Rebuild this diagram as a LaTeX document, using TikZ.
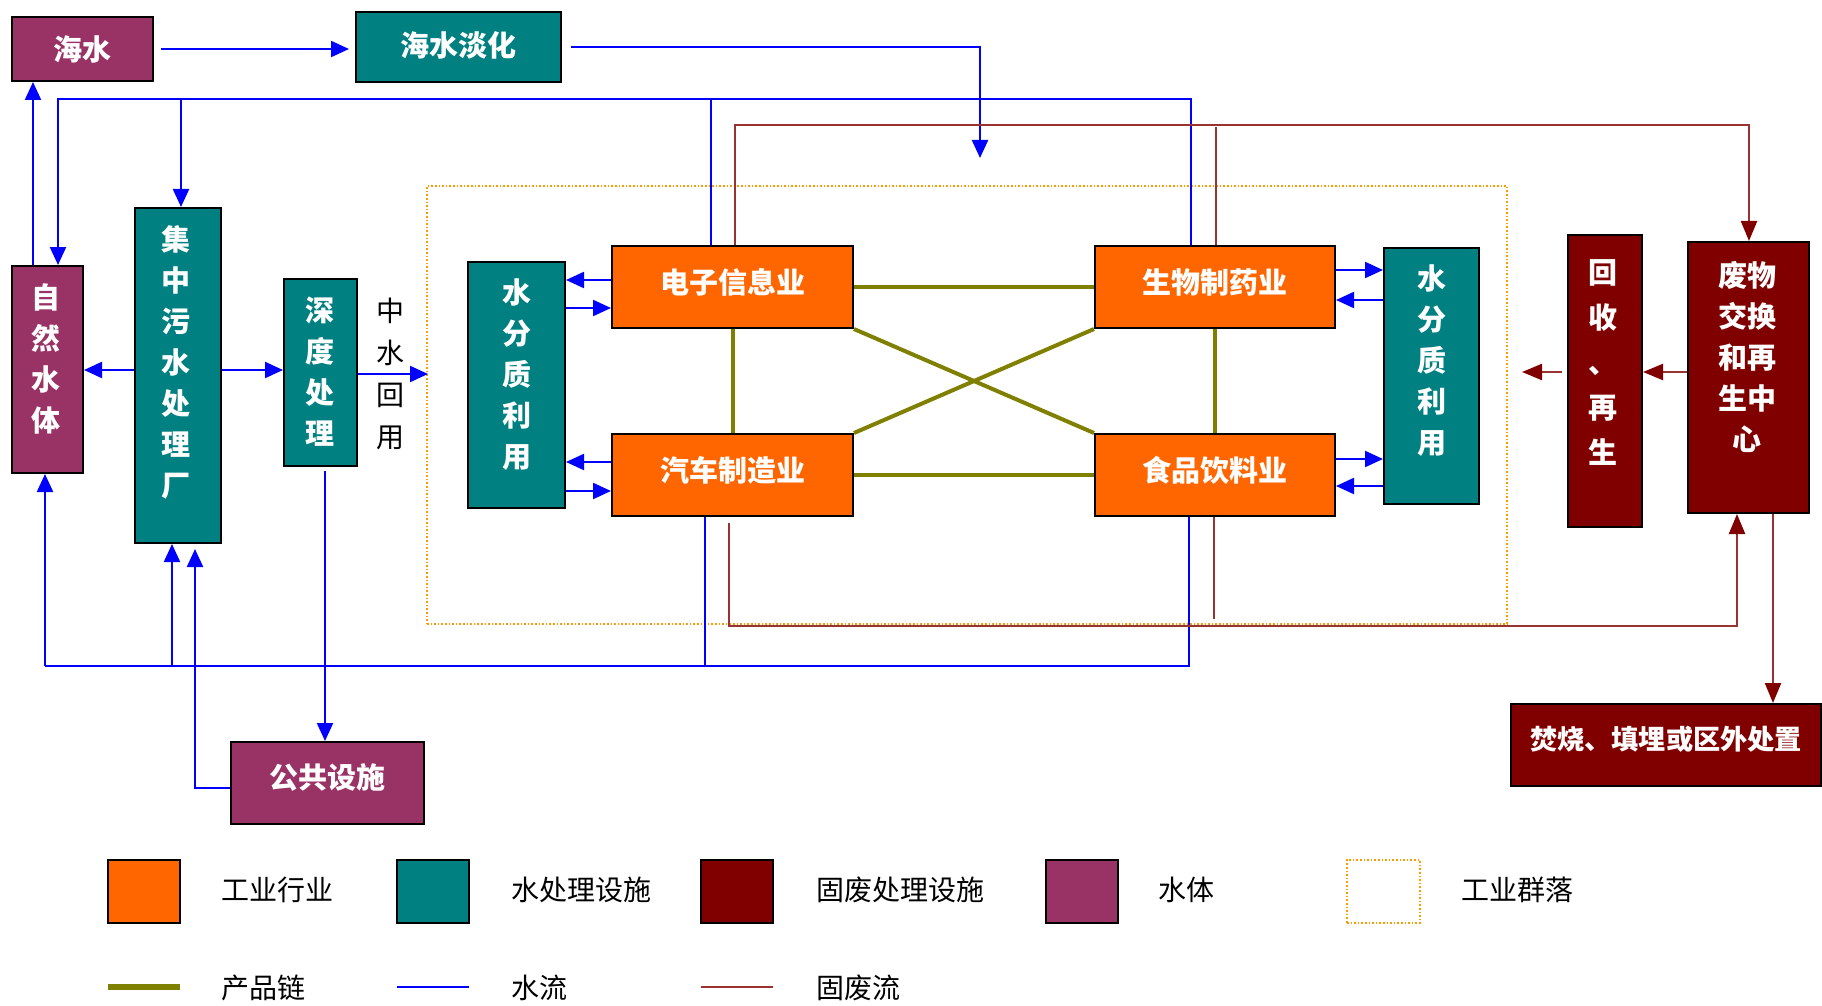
\documentclass[tikz,border=0pt]{standalone}
\usepackage{fontspec}
\setmainfont{Noto Sans CJK SC}
\usetikzlibrary{arrows.meta}
\definecolor{cOrange}{HTML}{FF6600}
\definecolor{cTeal}{HTML}{008080}
\definecolor{cDark}{HTML}{800000}
\definecolor{cPurple}{HTML}{993366}
\definecolor{cOlive}{HTML}{808000}
\definecolor{cBlue}{HTML}{0000FF}
\definecolor{cRed}{HTML}{993333}
\definecolor{cDot}{HTML}{FF9900}
\tikzset{
 box/.style={draw=black, line width=1pt, inner sep=0pt},
 ind/.style={box, fill=cOrange},
 wt/.style={box, fill=cTeal},
 sw/.style={box, fill=cDark},
 wb/.style={box, fill=cPurple},
 cluster/.style={draw=cDot, densely dotted, line width=0.8pt, inner sep=0pt},
 lab/.style={text=white, font=\fontsize{14.5}{20.5}\selectfont\bfseries, align=center, inner sep=0pt},
 blk/.style={text=black, font=\fontsize{14}{21}\selectfont, align=center, inner sep=0pt},
 water/.style={cBlue, line width=1.1pt},
 wa/.style={water, -{Triangle[length=9pt,width=8pt]}},
 prod/.style={cOlive, line width=2pt},
 waste/.style={cRed, line width=1.1pt},
 wsa/.style={waste, -{Triangle[length=10pt,width=8pt,color=cDark]}},
}
\begin{document}
\begin{tikzpicture}[x=0.5pt,y=-0.5pt]
\useasboundingbox (0,0) rectangle (1822,1006);
% cluster
\node[cluster, minimum width=540pt, minimum height=219pt] (cluster) at (967,405) {};
% boxes
\node[wb, minimum width=70.5pt, minimum height=32pt] (haishui) at (82.5,49) {};
\node[lab] at (82.5,49) {海水};
\node[wt, minimum width=102.5pt, minimum height=35pt] (danhua) at (458.5,47) {};
\node[lab] at (458.5,45) {海水淡化};
\node[wb, minimum width=35.5pt, minimum height=103.5pt] (ziran) at (47.5,369.5) {};
\node[lab] at (46,358.5) {自\\然\\水\\体};
\node[wt, minimum width=43pt, minimum height=167.5pt] (jizhong) at (178,375.5) {};
\node[lab] at (176,362.5) {集\\中\\污\\水\\处\\理\\厂};
\node[wt, minimum width=36.5pt, minimum height=93.5pt] (shendu) at (320.5,372.5) {};
\node[lab] at (320,371.5) {深\\度\\处\\理};
\node[blk] (zsy) at (390,373.5) {中\\水\\回\\用};
\node[wt, minimum width=48.5pt, minimum height=123pt] (wl) at (516.5,385) {};
\node[lab] at (517,374.5) {水\\分\\质\\利\\用};
\node[ind, minimum width=120.5pt, minimum height=41pt] (dianzi) at (732.5,287) {};
\node[lab] at (732.5,282) {电子信息业};
\node[ind, minimum width=120.5pt, minimum height=41pt] (qiche) at (732.5,475) {};
\node[lab] at (732.5,470) {汽车制造业};
\node[ind, minimum width=120pt, minimum height=41pt] (shengwu) at (1215,287) {};
\node[lab] at (1215,282) {生物制药业};
\node[ind, minimum width=120pt, minimum height=41pt] (shipin) at (1215,475) {};
\node[lab] at (1215,470) {食品饮料业};
\node[wt, minimum width=47.5pt, minimum height=128pt] (wr) at (1431.5,376) {};
\node[lab] at (1432,360.5) {水\\分\\质\\利\\用};
\node[sw, minimum width=37pt, minimum height=146pt] (huishou) at (1605,381) {};
\node[lab, font=\fontsize{14.5}{22.5}\selectfont\bfseries] at (1603,363) {回\\收\\、\\再\\生};
\node[sw, minimum width=60.5pt, minimum height=135.5pt] (feiwu) at (1748.5,377.5) {};
\node[lab] at (1747,357.5) {废物\\交换\\和再\\生中\\心};
\node[sw, minimum width=155pt, minimum height=41pt] (fenshao) at (1666,745) {};
\node[lab, font=\fontsize{13.6}{20}\selectfont\bfseries] at (1666,739) {焚烧、填埋或区外处置};
\node[wb, minimum width=96.5pt, minimum height=41pt] (gonggong) at (327.5,783) {};
\node[lab] at (327.5,777) {公共设施};
% ---------- water flows
\draw[wa, shorten <=3.5pt, shorten >=3pt] (haishui.east) -- (haishui.east -| danhua.west);
\coordinate (dhIn) at (980,158);
\draw[wa, shorten <=4.5pt] (danhua.east) -| (dhIn);
\coordinate (tl) at (58,99); \coordinate (tr) at (1191,99);
\draw[wa] (shengwu.north -| tr) -- (tr) -- (tl) -- (tl |- ziran.north);
\coordinate (dzw) at (711,99);
\draw[water] (dianzi.north -| dzw) -- (dzw);
\coordinate (jzt) at (181,99);
\draw[wa] (jzt) -- (jizhong.north -| jzt);
\coordinate (zx) at (33,0);
\draw[wa] (ziran.north -| zx) -- (haishui.south -| zx);
\coordinate (y370) at (0,370);
\draw[wa] (jizhong.west |- y370) -- (ziran.east |- y370);
\draw[wa] (jizhong.east |- y370) -- (shendu.west |- y370);
\coordinate (zy) at (428,374);
\draw[wa] (shendu.east |- zy) -- (zy);
\coordinate (sdx) at (325,0);
\draw[wa, shorten <=2pt] (shendu.south -| sdx) -- (gonggong.north -| sdx);
\coordinate (bl) at (45,666); \coordinate (br) at (1189,666);
\draw[water] (shipin.south -| br) -- (br) -- (bl);
\draw[wa] (bl) -- (ziran.south -| bl);
\coordinate (qx) at (705,666);
\draw[water] (qiche.south -| qx) -- (qx);
\coordinate (b2) at (172,666);
\draw[wa] (b2) -- (jizhong.south -| b2);
\coordinate (gx) at (195,788);
\draw[wa, shorten >=2.5pt] (gonggong.west |- gx) -- (gx) -- (jizhong.south -| gx);
% exchanges
\coordinate (e1) at (0,280); \coordinate (e2) at (0,308);
\coordinate (e3) at (0,462); \coordinate (e4) at (0,491);
\draw[wa] (dianzi.west |- e1) -- (wl.east |- e1);
\draw[wa] (wl.east |- e2) -- (dianzi.west |- e2);
\draw[wa] (qiche.west |- e3) -- (wl.east |- e3);
\draw[wa] (wl.east |- e4) -- (qiche.west |- e4);
\coordinate (e5) at (0,270); \coordinate (e6) at (0,300);
\coordinate (e7) at (0,459); \coordinate (e8) at (0,486);
\draw[wa] (shengwu.east |- e5) -- (wr.west |- e5);
\draw[wa] (wr.west |- e6) -- (shengwu.east |- e6);
\draw[wa] (shipin.east |- e7) -- (wr.west |- e7);
\draw[wa] (wr.west |- e8) -- (shipin.east |- e8);
% ---------- product chain
\draw[prod] (dianzi.east) -- (shengwu.west);
\draw[prod] (qiche.east) -- (shipin.west);
\draw[prod] (dianzi.south) -- (qiche.north);
\draw[prod] (shengwu.south) -- (shipin.north);
\draw[prod] (dianzi.south east) -- (shipin.north west);
\draw[prod] (qiche.north east) -- (shengwu.south west);
% ---------- solid waste
\coordinate (rt1) at (735,125); \coordinate (rt2) at (1749,125);
\draw[wsa] (dianzi.north -| rt1) -- (rt1) -- (rt2) -- (feiwu.north -| rt2);
\coordinate (rt3) at (1216,127);
\draw[waste] (shengwu.north -| rt3) -- (rt3);
\coordinate (rb1) at (729,626); \coordinate (rb2) at (1737,626);
\draw[wsa, shorten <=3pt] (qiche.south -| rb1) -- (rb1) -- (rb2) -- (feiwu.south -| rb2);
\coordinate (rs) at (1214,619);
\draw[waste] (shipin.south -| rs) -- (rs);
\coordinate (ry) at (0,372);
\draw[wsa] (feiwu.west |- ry) -- (huishou.east |- ry);
\coordinate (rl) at (1522,372);
\draw[wsa, shorten <=2.5pt] (huishou.west |- ry) -- (rl);
\coordinate (fx) at (1773,0);
\draw[wsa] (feiwu.south -| fx) -- (fenshao.north -| fx);
% ---------- legend
\node[ind, minimum width=36pt, minimum height=31.5pt] (lg1) at (144,891.5) {};
\node[blk, anchor=west] (lt1) at (221,890) {工业行业};
\node[wt, minimum width=36pt, minimum height=31.5pt] (lg2) at (433,891.5) {};
\node[blk, anchor=west] (lt2) at (511,890) {水处理设施};
\node[sw, minimum width=36pt, minimum height=31.5pt] (lg3) at (737,891.5) {};
\node[blk, anchor=west] (lt3) at (816,890) {固废处理设施};
\node[wb, minimum width=36pt, minimum height=31.5pt] (lg4) at (1081.5,891.5) {};
\node[blk, anchor=west] (lt4) at (1158,890) {水体};
\node[cluster, minimum width=36.5pt, minimum height=31.5pt] (lg5) at (1383.5,891.5) {};
\node[blk, anchor=west] (lt5) at (1461,890) {工业群落};
\coordinate (l1a) at (108,987); \coordinate (l1b) at (180,987);
\draw[prod, line width=3pt] (l1a) -- (l1b);
\node[blk, anchor=west] (lt6) at (221,988) {产品链};
\coordinate (l2a) at (397,987); \coordinate (l2b) at (469,987);
\draw[water] (l2a) -- (l2b);
\node[blk, anchor=west] (lt7) at (511,988) {水流};
\coordinate (l3a) at (701,987); \coordinate (l3b) at (773,987);
\draw[waste] (l3a) -- (l3b);
\node[blk, anchor=west] (lt8) at (816,988) {固废流};
\end{tikzpicture}
\end{document}
